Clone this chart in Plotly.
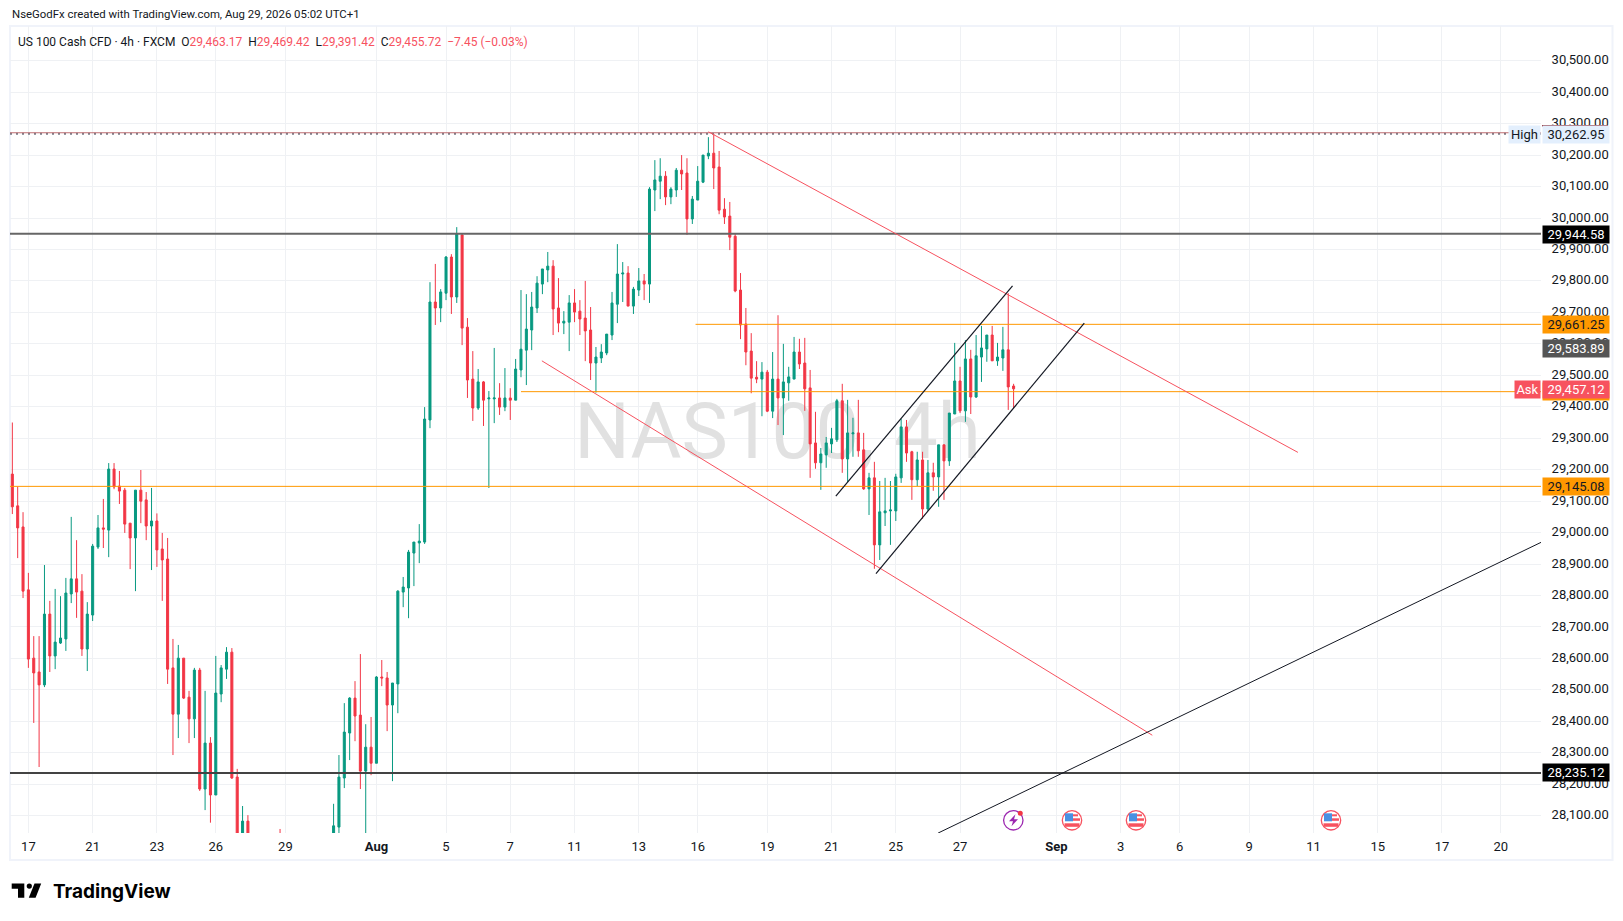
"""US 100 Cash CFD 4h candles with hand drawn levels and trend lines."""

from plotly.graph_objs import Candlestick, Figure, Scatter

GREEN = '#089981'
RED = '#F23645'
ORANGE = '#FF9800'
GRID = '#EFF1F4'
TEXT = '#131722'
UI_FONT = 'Roboto'

OPENS = [
    29186, 29085, 29018, 28818, 28601, 28557, 28516, 28741, 28608, 28649,
    28662, 28805, 28853, 28814, 28630, 28738, 28954, 29015, 29008, 29202,
    29148, 29135, 29030, 28983, 29135, 29104, 29021, 29037, 28948, 28916,
    28570, 28423, 28601, 28477, 28408, 28563, 28185, 28331, 28166, 28487,
    28566, 28620, 28223, 28010, 28083, 27990, 27950, 27990, 27930, 27960,
    28010, 27970, 28010, 27940, 27970, 27900, 27940, 27880, 27910, 27950,
    28000, 28064, 28220, 28363, 28474, 28420, 28242, 28318, 28267, 28541,
    28538, 28452, 28519, 28811, 28824, 28935, 28967, 28970, 29358, 29733,
    29714, 29761, 29876, 29749, 29946, 29653, 29488, 29396, 29479, 29425,
    29425, 29428, 29399, 29428, 29421, 29517, 29580, 29644, 29714, 29790,
    29835, 29847, 29714, 29666, 29669, 29730, 29704, 29682, 29644, 29539,
    29555, 29571, 29628, 29726, 29822, 29825, 29720, 29771, 29800, 29790,
    30089, 30117, 30133, 30067, 30089, 30152, 30143, 29997, 30057, 30114,
    30197, 30206, 30162, 30028, 30006, 29942, 29771, 29663, 29577, 29494,
    29488, 29510, 29386, 29488, 29428, 29476, 29488, 29574, 29539, 29460,
    29285, 29222, 29247, 29282, 29295, 29419, 29234, 29314, 29317, 29263,
    29139, 29174, 28961, 29063, 29069, 29069, 29174, 29336, 29257, 29168,
    29231, 29075, 29190, 29177, 29279, 29228, 29377, 29482, 29387, 29552,
    29431, 29558, 29584, 29628, 29546, 29555, 29581, 29466,
]
HIGHS = [
    29350, 29146, 29065, 28872, 28671, 28671, 28897, 28783, 28821, 28798,
    28856, 29050, 28976, 28868, 28779, 28964, 29056, 29107, 29221, 29221,
    29196, 29142, 29030, 29135, 29199, 29129, 29142, 29061, 28999, 28983,
    28662, 28643, 28601, 28497, 28570, 28570, 28497, 28350, 28608, 28579,
    28636, 28633, 28249, 28131, 28102, 28000, 28010, 28020, 27980, 28000,
    28058, 28030, 28030, 27990, 28000, 27960, 27960, 27930, 27970, 28010,
    28138, 28293, 28458, 28477, 28528, 28614, 28391, 28414, 28544, 28595,
    28557, 28522, 28817, 28859, 28945, 28970, 29027, 29399, 29796, 29854,
    29774, 29879, 29885, 29971, 29949, 29682, 29577, 29520, 29482, 29450,
    29587, 29475, 29523, 29459, 29552, 29771, 29758, 29765, 29815, 29838,
    29892, 29866, 29809, 29704, 29755, 29774, 29739, 29800, 29717, 29590,
    29599, 29631, 29765, 29917, 29860, 29847, 29781, 29841, 29822, 30098,
    30184, 30190, 30149, 30098, 30159, 30200, 30190, 30070, 30165, 30200,
    30257, 30267, 30213, 30063, 30051, 29949, 29825, 29714, 29634, 29545,
    29542, 29517, 29574, 29691, 29600, 29527, 29622, 29616, 29619, 29517,
    29384, 29269, 29304, 29333, 29425, 29473, 29422, 29365, 29422, 29317,
    29190, 29225, 29164, 29174, 29164, 29187, 29361, 29358, 29260, 29257,
    29257, 29231, 29222, 29279, 29279, 29380, 29603, 29527, 29612, 29581,
    29628, 29657, 29628, 29657, 29603, 29654, 29761, 29473,
]
LOWS = [
    29059, 28919, 28792, 28570, 28395, 28255, 28509, 28557, 28566, 28646,
    28624, 28776, 28729, 28608, 28560, 28719, 28948, 28951, 28922, 29138,
    29091, 28999, 28884, 28814, 29030, 28976, 28881, 28891, 28783, 28519,
    28293, 28347, 28471, 28331, 28347, 28179, 28118, 28078, 28166, 28461,
    28535, 28217, 27980, 27990, 27970, 27920, 27930, 27900, 27900, 27880,
    27950, 27950, 27920, 27910, 27880, 27880, 27860, 27850, 27890, 27930,
    27980, 28020, 28188, 28277, 28337, 28185, 28020, 28229, 28267, 28512,
    28369, 28210, 28426, 28763, 28728, 28830, 28903, 28964, 29332, 29660,
    29669, 29739, 29695, 29730, 29596, 29428, 29355, 29390, 29339, 29142,
    29348, 29374, 29386, 29358, 29421, 29494, 29469, 29580, 29698, 29758,
    29796, 29628, 29637, 29631, 29577, 29669, 29628, 29545, 29485, 29445,
    29539, 29564, 29612, 29666, 29733, 29720, 29695, 29752, 29739, 29730,
    30022, 30060, 30041, 30044, 30067, 30089, 29946, 29981, 30057, 30111,
    30187, 30092, 30012, 29981, 29898, 29764, 29615, 29532, 29443, 29475,
    29370, 29383, 29364, 29342, 29310, 29419, 29488, 29520, 29387, 29174,
    29203, 29136, 29206, 29253, 29288, 29190, 29161, 29241, 29241, 29136,
    29056, 28885, 28913, 29021, 28961, 29037, 29158, 29225, 29104, 29148,
    29044, 29069, 29133, 29082, 29104, 29212, 29377, 29380, 29352, 29377,
    29428, 29479, 29543, 29546, 29530, 29514, 29390, 29395,
]
CLOSES = [
    29082, 29015, 28814, 28598, 28554, 28516, 28741, 28608, 28652, 28665,
    28808, 28853, 28811, 28630, 28741, 28957, 29015, 29011, 29202, 29145,
    29132, 29027, 28983, 29135, 29100, 29021, 29037, 28945, 28913, 28566,
    28423, 28601, 28474, 28408, 28563, 28185, 28331, 28166, 28490, 28570,
    28620, 28220, 28000, 28083, 27990, 27950, 27990, 27930, 27960, 27900,
    27970, 28010, 27940, 27970, 27900, 27940, 27880, 27910, 27950, 27990,
    28068, 28223, 28366, 28474, 28417, 28242, 28318, 28267, 28541, 28538,
    28452, 28522, 28814, 28827, 28938, 28970, 28973, 29361, 29733, 29714,
    29765, 29876, 29749, 29949, 29650, 29485, 29396, 29479, 29421, 29428,
    29428, 29399, 29428, 29421, 29520, 29583, 29647, 29717, 29793, 29838,
    29847, 29711, 29666, 29672, 29730, 29701, 29679, 29641, 29539, 29558,
    29574, 29631, 29730, 29822, 29825, 29720, 29774, 29800, 29790, 30092,
    30121, 30133, 30067, 30092, 30152, 30140, 29997, 30060, 30117, 30200,
    30206, 30159, 30025, 30003, 29939, 29768, 29660, 29574, 29491, 29488,
    29510, 29386, 29488, 29428, 29479, 29495, 29574, 29536, 29457, 29282,
    29222, 29250, 29285, 29298, 29419, 29234, 29317, 29317, 29260, 29139,
    29174, 28961, 29066, 29069, 29072, 29177, 29336, 29253, 29168, 29231,
    29075, 29190, 29177, 29279, 29228, 29380, 29482, 29387, 29552, 29431,
    29562, 29587, 29628, 29546, 29558, 29581, 29463, 29457,
]

# time axis: position in bars, and the label shown there
TICK_BARS = [3, 15, 27, 38, 51, 68, 81, 93, 105, 117, 128, 141, 153, 165, 177,
             195, 207, 218, 231, 243, 255, 267, 278]
TICK_LABELS = ['17', '21', '23', '26', '29', '<b>Aug</b>', '5', '7', '11', '13',
               '16', '19', '21', '25', '27', '<b>Sep</b>', '3', '6', '9', '11',
               '15', '17', '20']
PRICE_TICKS = list(range(28100, 30600, 100))
BAR_RANGE = [-0.435, 285.5]
PRICE_RANGE = [28045.2, 30610.3]

# (first bar, price, colour, width)
HIGH_LEVEL = 30271
LEVELS = [
    (-0.435, 29950, '#666666', 2),
    (-0.435, 28236, '#434343', 2),
    (127.6, 29662, ORANGE, 1),
    (95, 29448, ORANGE, 1),
    (-0.435, 29147, ORANGE, 1),
]

# (x0, price0, x1, price1, colour, width)
TREND_LINES = [
    (130, 30274, 240.1, 29255, '#F7525F', 1),
    (98.9, 29546, 212.9, 28356, '#F7525F', 1),
    (153.8, 29116, 186.8, 29784, '#131722', 1.2),
    (161.3, 28870, 200.2, 29666, '#131722', 1.2),
    (172.9, 28045, 285.5, 28969, '#131722', 1),
]

# (text, price, background, text colour)
PRICE_LABELS = [
    ('30,262.95', 30266, '#E3EFFD', '#131722'),
    ('29,944.58', 29948, '#000000', '#FFFFFF'),
    ('29,661.25', 29662, ORANGE, '#131722'),
    ('29,583.89', 29586, '#555555', '#FFFFFF'),
    ('', 29447, ORANGE, '#131722'),
    ('29,457.12', 29454, '#F7525F', '#FFFFFF'),
    ('29,145.08', 29148, ORANGE, '#131722'),
    ('28,235.12', 28236, '#000000', '#FFFFFF'),
]

# (text, price, width, background, text colour)
SIDE_LABELS = [
    ('High', 30266, 31, '#E3EFFD', '#131722'),
    ('Ask', 29454, 25, '#F7525F', '#FFFFFF'),
]

FLAG_CENTRES = [1072, 1136, 1331]

# page pixels; the page keeps its 8px body margin around the figure
PLOT_LEFT, PLOT_RIGHT, PLOT_TOP, PLOT_BOTTOM = 10, 1541, 26, 833
BODY_MARGIN = 8


def px(x: float) -> float:
    """Return the paper position of a page pixel column."""
    return (x - PLOT_LEFT) / (PLOT_RIGHT - PLOT_LEFT)


def py(y: float) -> float:
    """Return the paper position of a page pixel row."""
    return (PLOT_BOTTOM - y) / (PLOT_BOTTOM - PLOT_TOP)


def _box(x0: float, y0: float, x1: float, y1: float, fill: str) -> dict:
    """Return a filled paper rectangle given in page pixels."""
    return dict(type='rect', xref='paper', yref='paper', layer='above',
                x0=px(x0), x1=px(x1), y0=py(y0), y1=py(y1),
                fillcolor=fill, line=dict(width=0))


def _circle(x: float, y: float, r: float, fill: str, line: str, width: float = 0) -> dict:
    """Return a paper circle given in page pixels."""
    return dict(type='circle', xref='paper', yref='paper', layer='above',
                x0=px(x - r), x1=px(x + r), y0=py(y + r), y1=py(y - r),
                fillcolor=fill, line=dict(color=line, width=width))


def _polygon(points: list, fill: str) -> dict:
    """Return a filled paper polygon from page pixel points."""
    path = 'M ' + ' L '.join(f'{px(x):.5f},{py(y):.5f}' for x, y in points) + ' Z'
    return dict(type='path', xref='paper', yref='paper', layer='above', path=path,
                fillcolor=fill, line=dict(width=0))


def _event_shapes() -> list:
    """Return the shapes of the event icons above the time axis."""
    cy = 820.3
    shapes = [
        _circle(1013.3, cy, 9.7, 'white', '#9C27B0', 1.3),
        _polygon([(1015.5, cy - 6), (1009, cy + 1), (1013, cy + 1), (1011.5, cy + 6),
                  (1018, cy - 1), (1014, cy - 1)], '#9C27B0'),
        _circle(1020.3, cy - 7, 2.5, '#F23645', '#F23645'),
    ]
    for cx in FLAG_CENTRES:
        shapes += [
            _circle(cx, cy, 9.7, 'white', '#F7525F', 1.3),
            _box(cx - 7, cy - 7, cx + 1, cy + 1, '#4A90E2'),
            _box(cx + 1, cy - 6, cx + 6, cy - 4, '#F7525F'),
            _box(cx + 1, cy - 2, cx + 8, cy + 0.5, '#F7525F'),
            _box(cx - 7.5, cy + 3, cx + 7.5, cy + 6.5, '#F7525F'),
        ]
    return shapes


def _logo_shapes() -> list:
    """Return the shapes of the TradingView mark."""
    return [
        _polygon([(11.7, 883.5), (24.3, 883.5), (24.3, 897.7), (18, 897.7),
                  (18, 888.8), (11.7, 888.8)], '#000000'),
        _circle(29.3, 886.1, 2.6, '#000000', '#000000'),
        _polygon([(34.5, 883.5), (41.2, 883.5), (35.6, 897.7), (28.8, 897.7)], '#000000'),
    ]


def _legend_text() -> str:
    """Return the rich text of the symbol legend."""
    red = '<span style="color:#F7525F">{}</span>'
    return ('US 100 Cash CFD · 4h · FXCM  '
            + 'O' + red.format('29,463.17') + '  '
            + 'H' + red.format('29,469.42') + '  '
            + 'L' + red.format('29,391.42') + '  '
            + 'C' + red.format('29,455.72') + '  '
            + red.format('−7.45 (−0.03%)'))


bars = list(range(len(OPENS)))

traces = [
    # watermark sits on the base axes so the candles stay on top of it
    Scatter(x=[142.9], y=[29300], mode='text', text=['NAS100, 4h'],
            textposition='middle center',
            textfont=dict(family=UI_FONT, size=78, color='#E1E1E1'),
            xaxis='x', yaxis='y', hoverinfo='skip', showlegend=False),
    Candlestick(x=bars, open=OPENS, high=HIGHS, low=LOWS, close=CLOSES,
                increasing=dict(line=dict(color=GREEN, width=1), fillcolor=GREEN),
                decreasing=dict(line=dict(color=RED, width=1), fillcolor=RED),
                whiskerwidth=0, xaxis='x2', yaxis='y2', showlegend=False),
    Scatter(x=BAR_RANGE, y=[HIGH_LEVEL - 3, HIGH_LEVEL - 3], mode='lines',
            line=dict(color='#787B86', width=2, dash='2px,4px'),
            xaxis='x2', yaxis='y2', hoverinfo='skip', showlegend=False),
    Scatter(x=BAR_RANGE, y=[HIGH_LEVEL, HIGH_LEVEL], mode='lines',
            line=dict(color='#BE6E72', width=1),
            xaxis='x2', yaxis='y2', hoverinfo='skip', showlegend=False),
]
for start, price, colour, width in LEVELS:
    traces.append(Scatter(x=[start, BAR_RANGE[1]], y=[price, price], mode='lines',
                          line=dict(color=colour, width=width),
                          xaxis='x2', yaxis='y2', hoverinfo='skip', showlegend=False))
for x0, y0, x1, y1, colour, width in TREND_LINES:
    traces.append(Scatter(x=[x0, x1], y=[y0, y1], mode='lines',
                          line=dict(color=colour, width=width),
                          xaxis='x2', yaxis='y2', hoverinfo='skip', showlegend=False))

annotations = [
    dict(text='NseGodFx created with TradingView.com, Aug 29, 2026 05:02 UTC+1',
         xref='paper', yref='paper', x=px(9.5), y=py(13.8), xanchor='left', yanchor='middle',
         showarrow=False, font=dict(family=UI_FONT, size=11.4, color='#131722')),
    dict(text=_legend_text(), xref='paper', yref='paper', x=px(16), y=py(42.3),
         xanchor='left', yanchor='middle', showarrow=False,
         font=dict(family=UI_FONT, size=12, color='#131722')),
    dict(text='<b>TradingView</b>', xref='paper', yref='paper', x=px(51), y=py(891),
         xanchor='left', yanchor='middle', showarrow=False,
         font=dict(family='Inter', size=19, color='#000000')),
]
for text, price, fill, colour in PRICE_LABELS:
    annotations.append(dict(text=text, xref='paper', yref='y2', x=1, y=price, xanchor='left',
                            yanchor='middle', xshift=1, width=66, height=17, borderpad=0,
                            align='center', bgcolor=fill, showarrow=False,
                            font=dict(family=UI_FONT, size=13, color=colour)))
for text, price, box_width, fill, colour in SIDE_LABELS:
    annotations.append(dict(text=text, xref='paper', yref='y2', x=1, y=price, xanchor='right',
                            yanchor='middle', width=box_width, height=17, borderpad=0,
                            align='center', bgcolor=fill, showarrow=False,
                            font=dict(family=UI_FONT, size=13, color=colour)))

shapes = [
    dict(type='rect', xref='paper', yref='paper', x0=px(10), x1=px(1612.5),
         y0=py(860), y1=py(26), line=dict(color='#F0F3FA', width=2), layer='below'),
    _box(1542, 125, 1608, 126.5, '#801922'),
] + _event_shapes() + _logo_shapes()

fig = Figure(data=traces)
fig.update_layout(
    width=1623 - BODY_MARGIN, height=921 - BODY_MARGIN, autosize=False,
    margin=dict(l=PLOT_LEFT - BODY_MARGIN, r=1623 - PLOT_RIGHT,
                t=PLOT_TOP - BODY_MARGIN, b=921 - PLOT_BOTTOM, pad=0),
    paper_bgcolor='white', plot_bgcolor='white', showlegend=False, boxgap=0.46,
    xaxis=dict(range=BAR_RANGE, visible=False, fixedrange=True),
    yaxis=dict(range=PRICE_RANGE, visible=False, fixedrange=True),
    xaxis2=dict(range=BAR_RANGE, overlaying='x', anchor='y2', rangeslider=dict(visible=False),
                tickvals=TICK_BARS, ticktext=TICK_LABELS, tickangle=0,
                showgrid=True, gridcolor=GRID, gridwidth=1, zeroline=False, showline=False,
                ticks='outside', ticklen=1, tickcolor='white',
                tickfont=dict(family=UI_FONT, size=13, color=TEXT)),
    yaxis2=dict(range=PRICE_RANGE, overlaying='y', anchor='x2', side='right',
                tickvals=PRICE_TICKS, tickformat=',.2f', ticklabelshift=-1,
                showgrid=True, gridcolor=GRID, gridwidth=1, zeroline=False, showline=False,
                ticks='outside', ticklen=7, tickcolor='white',
                tickfont=dict(family=UI_FONT, size=13, color=TEXT)),
    annotations=annotations, shapes=shapes,
)

fig.write_html('out.html')
